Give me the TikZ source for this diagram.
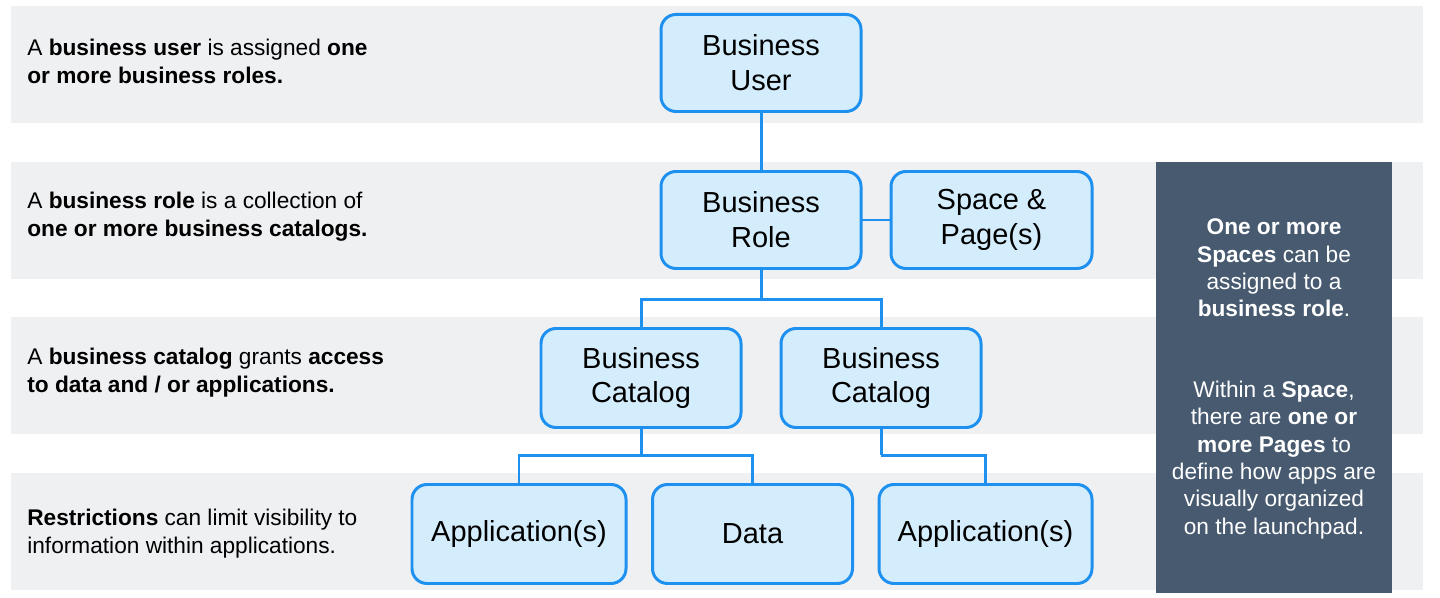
\documentclass[tikz,border=0pt]{standalone}
\usepackage{fontspec}
\setmainfont{Liberation Sans}
\usetikzlibrary{positioning}
\definecolor{bandgray}{RGB}{239,240,242}
\definecolor{boxfill}{RGB}{212,237,252}
\definecolor{boxline}{RGB}{30,144,240}
\definecolor{slate}{RGB}{71,90,112}

\begin{document}
\begin{tikzpicture}[node distance=1.2cm,
          every node/.style={align=center},
          box/.style={draw=boxline, fill=boxfill, line width=1.7pt,
                      rounded corners=0.3cm, minimum width=4cm,
                      minimum height=1.94cm, inner sep=2pt, outer sep=0pt,
                      font=\fontsize{16.5}{19.9}\selectfont},
          link/.style={draw=boxline, line width=1.7pt},
          note/.style={anchor=west, align=left, inner sep=0pt,
                       font=\fontsize{12.9}{16}\selectfont},
          side/.style={text=white, inner sep=0pt,
                       font=\fontsize{12.9}{15.6}\selectfont}]
        \useasboundingbox (0,0) rectangle (28.8,-11.96);
        % grey bands and side panel
        \foreach \yy in {0.12,3.24,6.34,9.46}
          \fill[bandgray] (0.22,-\yy) rectangle (28.46,{-\yy-2.34});
        \fill[slate] (23.12,-3.24) rectangle (27.84,-11.86);
        % hierarchy
        \node[box] (user) at (15.22,-1.26) {Business\\User};
        \node[box, below=of user] (role) {Business\\Role};
        \node[box, right=0.6cm of role, minimum width=4.02cm] (space) {Space \&\\Page(s)};
        \node[box, below=of role, xshift=-2.4cm, minimum height=1.98cm] (catA) {Business\\Catalog};
        \node[box, below=of role, xshift=2.4cm, minimum height=1.98cm] (catB) {Business\\Catalog};
        \node[box, below=1.14cm of catA, xshift=-2.44cm, minimum width=4.28cm,
              minimum height=1.98cm] (appA) {Application(s)};
        \node[box, below=1.14cm of catA, xshift=2.23cm, minimum height=1.98cm] (dataA) {Data};
        \node[box, below=1.14cm of catB, xshift=2.09cm, minimum width=4.26cm,
              minimum height=1.98cm] (appB) {Application(s)};
        \draw[link] (user) -- (role);
        \draw[link] (role) -- (space);
        \draw[link] (role.south) -- ++(0,-0.62) coordinate (forkR);
        \draw[link] (forkR) -| (catA.north);
        \draw[link] (forkR) -| (catB.north);
        \draw[link] (catA.south) -- ++(0,-0.56) coordinate (forkA);
        \draw[link] (forkA) -| (appA.north);
        \draw[link] (forkA) -| (dataA.north);
        \draw[link] (catB.south) -- ++(0,-0.56) coordinate (forkB);
        \draw[link] (forkB) -| (appB.north);
        % left notes
        \node[note] (noteU) at (0.54,-1.22) {A \textbf{business user} is assigned \textbf{one}\\\textbf{or more business roles.}};
        \node[note] (noteR) at (0.54,-4.34) {A \textbf{business role} is a collection of\\\textbf{one or more business catalogs.}};
        \node[note] (noteC) at (0.54,-7.46) {A \textbf{business catalog} grants \textbf{access}\\\textbf{to data and / or applications.}};
        \node[note] (noteX) at (0.54,-10.68) {\textbf{Restrictions} can limit visibility to\\information within applications.};
        % side panel texts
        \node[side] (sideA) at (25.48,-5.36) {\textbf{One or more}\\\textbf{Spaces} can be\\assigned to a\\\textbf{business role}.};
        \node[side] (sideB) at (25.48,-9.2) {Within a \textbf{Space},\\there are \textbf{one or}\\\textbf{more Pages} to\\define how apps are\\visually organized\\on the launchpad.};
      \end{tikzpicture}
\end{document}
